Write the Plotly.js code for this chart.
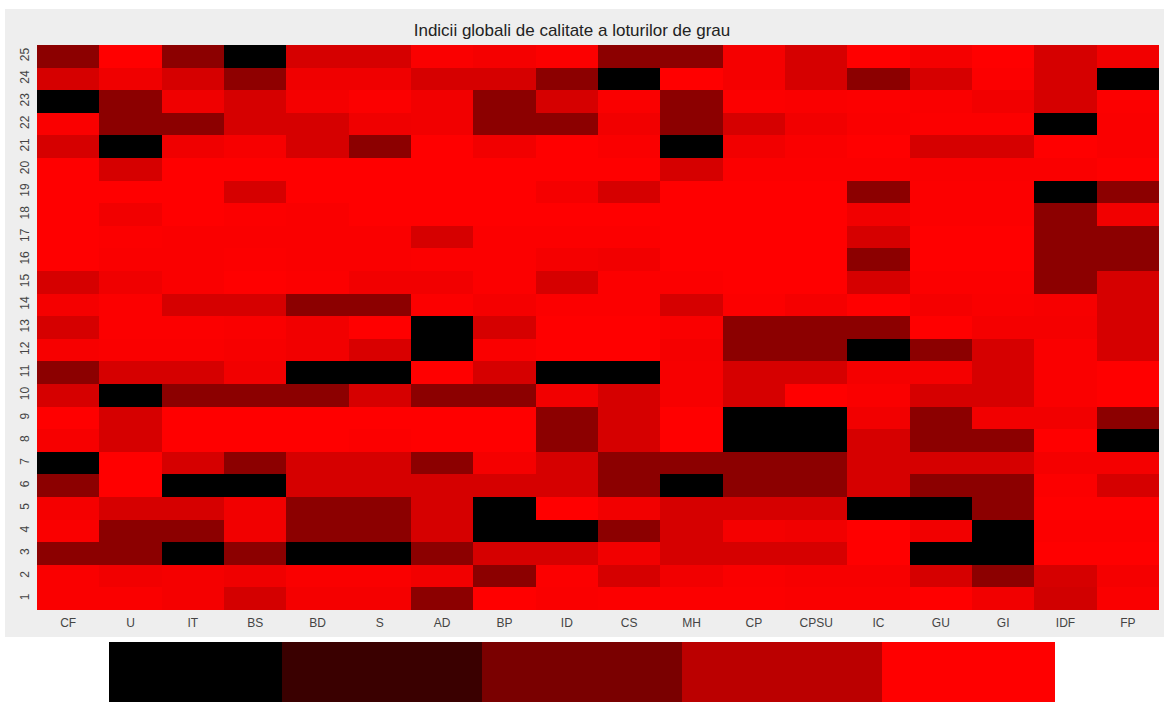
<!DOCTYPE html>
<html>
<head>
<meta charset="utf-8">
<script src="https://cdn.plot.ly/plotly-3.0.1.min.js"></script>
<style>
  html, body { margin: 0; padding: 0; background: #ffffff; }
  #chart { width: 1165px; height: 702px; }
</style>
</head>
<body>
<div id="chart"></div>
<script>
// Indicatori (coloane)
const indicators = ['CF', 'U', 'IT', 'BS', 'BD', 'S', 'AD', 'BP', 'ID', 'CS', 'MH', 'CP', 'CPSU', 'IC', 'GU', 'GI', 'IDF', 'FP'];

// Loturi (rânduri), de jos în sus
const lots = ['1', '2', '3', '4', '5', '6', '7', '8', '9', '10', '11', '12', '13',
              '14', '15', '16', '17', '18', '19', '20', '21', '22', '23', '24', '25'];

// Indici normalizați, câte un rând pe lot (lotul 1 primul)
const lot01 = [0.98, 0.98, 0.96, 0.83, 0.96, 0.96, 0.55, 1.00, 0.98, 0.99, 0.99, 0.99, 0.98, 0.98, 1.00, 0.95, 0.82, 0.98];
const lot02 = [0.98, 0.95, 0.96, 0.94, 0.98, 0.98, 0.95, 0.55, 0.99, 0.84, 0.95, 0.98, 0.97, 0.97, 0.84, 0.55, 0.84, 0.96];
const lot03 = [0.55, 0.55, 0.00, 0.55, 0.00, 0.00, 0.55, 0.84, 0.84, 0.95, 0.84, 0.84, 0.84, 1.00, 0.00, 0.00, 1.00, 1.00];
const lot04 = [0.98, 0.55, 0.55, 0.95, 0.55, 0.55, 0.84, 0.00, 0.00, 0.55, 0.84, 0.96, 0.95, 1.00, 0.95, 0.00, 0.99, 0.99];
const lot05 = [0.96, 0.84, 0.84, 0.95, 0.55, 0.55, 0.84, 0.00, 1.00, 0.95, 0.84, 0.84, 0.84, 0.00, 0.00, 0.55, 1.00, 1.00];
const lot06 = [0.55, 1.00, 0.00, 0.00, 0.84, 0.84, 0.84, 0.84, 0.84, 0.55, 0.00, 0.55, 0.55, 0.84, 0.55, 0.55, 0.99, 0.84];
const lot07 = [0.00, 1.00, 0.84, 0.55, 0.84, 0.84, 0.55, 0.96, 0.84, 0.55, 0.55, 0.55, 0.55, 0.84, 0.84, 0.84, 0.96, 0.96];
const lot08 = [0.97, 0.84, 1.00, 1.00, 1.00, 0.99, 1.00, 1.00, 0.55, 0.84, 1.00, 0.00, 0.00, 0.84, 0.55, 0.55, 1.00, 0.00];
const lot09 = [1.00, 0.84, 1.00, 1.00, 1.00, 1.00, 1.00, 1.00, 0.55, 0.84, 1.00, 0.00, 0.00, 0.95, 0.55, 0.95, 0.95, 0.55];
const lot10 = [0.84, 0.00, 0.55, 0.55, 0.55, 0.84, 0.55, 0.55, 0.95, 0.84, 0.97, 0.84, 1.00, 0.98, 0.84, 0.84, 0.98, 1.00];
const lot11 = [0.55, 0.84, 0.84, 0.95, 0.00, 0.00, 1.00, 0.84, 0.00, 0.00, 0.97, 0.84, 0.84, 0.96, 0.96, 0.84, 0.98, 1.00];
const lot12 = [0.97, 0.98, 0.98, 0.97, 0.95, 0.85, 0.00, 0.98, 1.00, 1.00, 0.96, 0.55, 0.55, 0.00, 0.55, 0.84, 0.98, 0.84];
const lot13 = [0.84, 0.99, 0.99, 0.98, 0.95, 1.00, 0.00, 0.84, 1.00, 1.00, 0.98, 0.55, 0.55, 0.55, 1.00, 0.96, 0.96, 0.84];
const lot14 = [0.96, 0.99, 0.84, 0.84, 0.55, 0.55, 0.99, 0.96, 0.99, 0.99, 0.84, 0.99, 0.96, 1.00, 0.96, 0.98, 0.97, 0.84];
const lot15 = [0.84, 0.94, 0.98, 1.00, 0.99, 0.95, 0.95, 0.99, 0.84, 0.99, 0.99, 1.00, 1.00, 0.84, 0.99, 0.99, 0.55, 0.84];
const lot16 = [1.00, 0.98, 0.98, 0.99, 0.98, 0.98, 0.99, 0.99, 0.96, 0.95, 1.00, 1.00, 1.00, 0.55, 1.00, 1.00, 0.55, 0.55];
const lot17 = [1.00, 0.99, 0.98, 0.98, 0.98, 0.98, 0.84, 0.99, 0.99, 0.99, 1.00, 1.00, 1.00, 0.84, 1.00, 1.00, 0.55, 0.55];
const lot18 = [1.00, 0.95, 1.00, 0.99, 0.98, 1.00, 1.00, 1.00, 1.00, 1.00, 1.00, 1.00, 1.00, 0.95, 0.99, 0.99, 0.55, 0.95];
const lot19 = [1.00, 1.00, 1.00, 0.84, 1.00, 1.00, 1.00, 1.00, 0.96, 0.84, 1.00, 1.00, 1.00, 0.55, 0.99, 0.99, 0.00, 0.55];
const lot20 = [1.00, 0.84, 1.00, 1.00, 1.00, 1.00, 1.00, 1.00, 1.00, 1.00, 0.84, 0.99, 0.99, 0.99, 0.98, 0.98, 0.98, 1.00];
const lot21 = [0.84, 0.00, 0.94, 0.97, 0.84, 0.55, 1.00, 0.95, 1.00, 0.98, 0.00, 0.95, 0.98, 1.00, 0.84, 0.84, 1.00, 0.98];
const lot22 = [0.98, 0.55, 0.55, 0.84, 0.84, 0.94, 0.95, 0.55, 0.55, 0.95, 0.55, 0.84, 0.95, 0.98, 0.99, 0.99, 0.00, 0.98];
const lot23 = [0.00, 0.55, 0.94, 0.84, 0.96, 0.99, 0.95, 0.55, 0.84, 0.98, 0.55, 0.99, 0.98, 0.99, 0.98, 0.95, 0.84, 0.99];
const lot24 = [0.84, 0.94, 0.84, 0.56, 0.94, 0.94, 0.84, 0.84, 0.55, 0.00, 1.00, 0.96, 0.84, 0.55, 0.84, 0.99, 0.84, 0.00];
const lot25 = [0.55, 1.00, 0.55, 0.00, 0.84, 0.84, 0.98, 0.96, 0.99, 0.55, 0.55, 0.96, 0.84, 1.00, 0.96, 1.00, 0.84, 0.95];

// Clasele afișate în bara de culori de sub grafic
const legendClasses = [0, 1, 2, 3, 4];
const legendColors = ['#000000', '#3a0000', '#7a0000', '#bb0000', '#ff0000'];

const zValues = [lot01, lot02, lot03, lot04, lot05, lot06, lot07, lot08, lot09, lot10,
                 lot11, lot12, lot13, lot14, lot15, lot16, lot17, lot18, lot19, lot20,
                 lot21, lot22, lot23, lot24, lot25];

const W = 1165, H = 702;
const px = v => v / W;
const py = v => 1 - v / H;

const heat = {
  type: 'heatmap',
  x: indicators,
  y: lots,
  z: zValues,
  zmin: 0,
  zmax: 1,
  colorscale: [[0, '#000000'], [1, '#ff0000']],
  showscale: false,
  xgap: 0,
  ygap: 0,
  hoverinfo: 'x+y+z',
  xaxis: 'x',
  yaxis: 'y'
};

// bara de culori: o bandă pentru fiecare clasă (benzile de la capete sunt tăiate puțin)
const legendBar = {
  type: 'heatmap',
  x: legendClasses,
  y: [0],
  z: [legendClasses],
  zmin: 0,
  zmax: legendClasses.length - 1,
  colorscale: legendColors.map((c, i) => [i / (legendColors.length - 1), c]),
  showscale: false,
  hoverinfo: 'skip',
  xaxis: 'x2',
  yaxis: 'y2'
};

const tickFont = { family: 'Liberation Sans, Arial, sans-serif', size: 12, color: '#444444' };

const layout = {
  width: W,
  height: H,
  margin: { l: 0, r: 0, t: 0, b: 0 },
  paper_bgcolor: '#ffffff',
  plot_bgcolor: '#eeeeee',
  showlegend: false,
  title: {
    text: 'Indicii globali de calitate a loturilor de grau',
    font: { family: 'Liberation Sans, Arial, sans-serif', size: 17, color: '#222222' },
    x: px(572), xanchor: 'center', xref: 'paper',
    y: py(30), yanchor: 'middle', yref: 'paper'
  },
  xaxis: {
    domain: [px(37), px(1159)],
    anchor: 'y',
    showgrid: false, zeroline: false, showline: false,
    ticks: '',
    tickfont: tickFont,
    ticklabelstandoff: 4,
    type: 'category',
    automargin: false
  },
  yaxis: {
    domain: [py(610), py(45)],
    anchor: 'x',
    showgrid: false, zeroline: false, showline: false,
    ticks: '',
    tickangle: -90,
    tickfont: tickFont,
    ticklabelstandoff: 5,
    type: 'category',
    automargin: false
  },
  xaxis2: {
    domain: [px(109), px(1055)],
    range: [-0.365, 4.365],
    anchor: 'y2',
    visible: false,
    fixedrange: true
  },
  yaxis2: {
    domain: [0, py(642)],
    anchor: 'x2',
    visible: false,
    fixedrange: true
  },
  shapes: [{
    type: 'rect', xref: 'paper', yref: 'paper', layer: 'below',
    x0: px(5), x1: px(1164), y0: py(637), y1: py(9),
    fillcolor: '#eeeeee', line: { width: 0 }
  }]
};

Plotly.newPlot('chart', [heat, legendBar], layout, { displayModeBar: false, staticPlot: true });
</script>
</body>
</html>
